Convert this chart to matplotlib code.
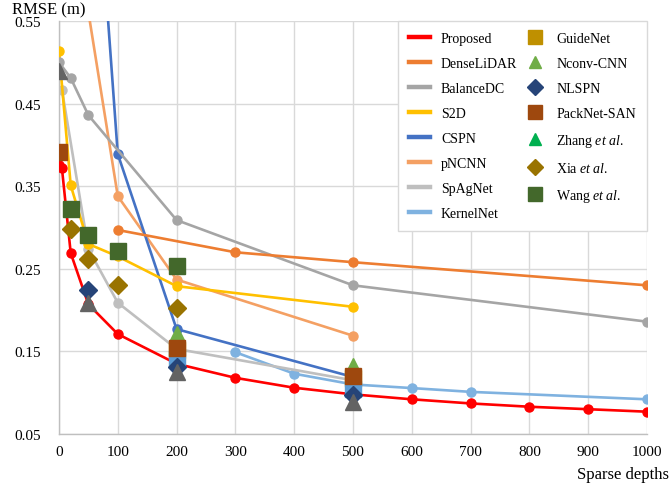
import matplotlib
matplotlib.use("Agg")
from matplotlib import pyplot as plt
from matplotlib.lines import Line2D

plt.rcParams["font.family"] = ["Liberation Serif", "DejaVu Serif"]
plt.rcParams["mathtext.fontset"] = "custom"
plt.rcParams["mathtext.rm"] = "Liberation Serif"
plt.rcParams["mathtext.it"] = "Liberation Serif:italic"

# ---- line series (sparse depth count -> RMSE in m) ----
x_prop = [0, 5, 20, 50, 100, 200, 300, 400, 500, 600, 700, 800, 900, 1000]
y_prop = [0.376, 0.372, 0.269, 0.207, 0.171, 0.135, 0.118, 0.106, 0.098, 0.092, 0.087, 0.083, 0.080, 0.077]
x_dense = [100, 300, 500, 1000]
y_dense = [0.297, 0.270, 0.258, 0.230]
x_bal = [0, 20, 50, 200, 500, 1000]
y_bal = [0.500, 0.481, 0.436, 0.309, 0.230, 0.186]
x_s2d = [0, 20, 50, 100, 200, 500]
y_s2d = [0.514, 0.351, 0.280, 0.265, 0.229, 0.204]
x_cspn = [50, 100, 200, 500]
y_cspn = [0.88, 0.389, 0.177, 0.119]
x_pncnn = [50, 100, 200, 500]
y_pncnn = [0.561, 0.338, 0.237, 0.169]
x_spag = [5, 50, 100, 200, 500]
y_spag = [0.467, 0.274, 0.209, 0.153, 0.115]
x_kern = [300, 400, 500, 600, 700, 1000]
y_kern = [0.149, 0.123, 0.110, 0.1056, 0.101, 0.092]

# ---- marker-only methods ----
x_guide = [200, 500]
y_guide = [0.152, 0.118]
x_nconv = [200, 500]
y_nconv = [0.171, 0.132]
x_zhang = [200, 500]
y_zhang = [0.150, 0.117]
x_nlspn = [50, 200, 500]
y_nlspn = [0.224, 0.131, 0.097]
x_pack = [0, 200, 500]
y_pack = [0.392, 0.154, 0.120]
x_xia = [20, 50, 100, 200]
y_xia = [0.298, 0.262, 0.2305, 0.203]
x_wang = [20, 50, 100, 200]
y_wang = [0.322, 0.291, 0.271, 0.253]
x_tri = [0, 50, 200, 500]
y_tri = [0.490, 0.208, 0.125, 0.089]
x_sq = [200, 500]
y_sq = [0.141, 0.105]

lines = [("Proposed", x_prop, y_prop, "#FF0000"),
         ("DenseLiDAR", x_dense, y_dense, "#ED7D31"),
         ("BalanceDC", x_bal, y_bal, "#A5A5A5"),
         ("S2D", x_s2d, y_s2d, "#FFC000"),
         ("CSPN", x_cspn, y_cspn, "#4472C4"),
         ("pNCNN", x_pncnn, y_pncnn, "#F4A063"),
         ("SpAgNet", x_spag, y_spag, "#BFBFBF"),
         ("KernelNet", x_kern, y_kern, "#7FB2E0")]

fig = plt.figure(figsize=(6.7, 4.85), dpi=100)
ax = fig.add_axes([0.088, 0.1031, 0.8777, 0.8515])

for lab, xs, ys, col in lines[::-1]:
    ax.plot(xs, ys, "-o", color=col, lw=1.9, markersize=6.5, zorder=3)

# (label, x, y, marker, size, colour, zorder)
marks = [("GuideNet", x_guide, y_guide, "s", 12, "#BF9000", 4),
         ("Nconv-CNN", x_nconv, y_nconv, "^", 11, "#70AD47", 4),
         ("Zhang $\\mathit{et\\ al.}$", x_zhang, y_zhang, "^", 11, "#00B050", 4),
         (None, x_sq, y_sq, "s", 12, "#5B9BD5", 5),
         ("PackNet-SAN", x_pack, y_pack, "s", 12, "#9E480E", 6),
         ("NLSPN", x_nlspn, y_nlspn, "D", 8.8, "#264478", 7),
         (None, x_tri, y_tri, "^", 11.5, "#636363", 8),
         ("Xia $\\mathit{et\\ al.}$", x_xia, y_xia, "D", 8.8, "#997300", 7),
         ("Wang $\\mathit{et\\ al.}$", x_wang, y_wang, "s", 12, "#43682B", 7)]
for lab, xs, ys, m, s, col, z in marks:
    ax.plot(xs, ys, ls="none", marker=m, markersize=s, color=col, zorder=z)

ax.set_xlim(0, 1000)
ax.set_ylim(0.05, 0.55)
ax.set_xticks(range(0, 1001, 100))
yt = [0.05, 0.15, 0.25, 0.35, 0.45, 0.55]
ax.set_yticks(yt)
ax.set_yticklabels([f"{v:.2f}" for v in yt])
ax.tick_params(axis="y", length=0, pad=13, labelsize=11)
ax.tick_params(axis="x", length=0, pad=8, labelsize=11)
ax.grid(True, color="#D9D9D9", lw=1)
ax.set_axisbelow(True)
for sp in ["top", "right"]:
    ax.spines[sp].set_visible(False)
for sp in ["left", "bottom"]:
    ax.spines[sp].set_color("#BFBFBF")
    ax.spines[sp].set_linewidth(1)

# legend: lines without markers, point methods as markers
handles, labels = [], []
for lab, xs, ys, col in lines:
    handles.append(Line2D([], [], color=col, lw=3.2)); labels.append(lab)
order = ["GuideNet", "Nconv-CNN", "NLSPN", "PackNet-SAN", "Zhang $\\mathit{et\\ al.}$",
         "Xia $\\mathit{et\\ al.}$", "Wang $\\mathit{et\\ al.}$"]
mk = {lab: (m, col) for lab, xs, ys, m, s, col, z in marks if lab}
lsize = {"s": 9.5, "^": 9, "D": 7.8}
for lab in order:
    m, col = mk[lab]
    handles.append(Line2D([], [], ls="none", marker=m, markersize=lsize[m], color=col))
    labels.append(lab)
leg = ax.legend(handles, labels, ncol=2, loc="upper right", bbox_to_anchor=(1.0, 1.0),
                borderaxespad=0, fontsize=10, frameon=True, fancybox=False,
                edgecolor="#D9D9D9", framealpha=1, labelspacing=0.86,
                handlelength=1.5, handletextpad=0.8, columnspacing=0.5,
                borderpad=0.8)
leg.get_frame().set_linewidth(1)
leg.set_zorder(10)

fig.text(0.018, 0.995, "RMSE (m)", ha="left", va="top", fontsize=12)
fig.text(0.999, 0.005, "Sparse depths", ha="right", va="bottom", fontsize=12)

fig.savefig("out.png", dpi=100)
